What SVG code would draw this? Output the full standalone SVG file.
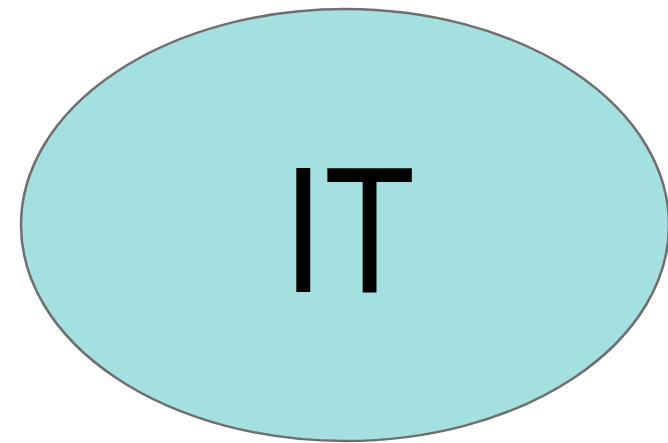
<svg xmlns="http://www.w3.org/2000/svg" width="668" height="443" viewBox="0 0 668 443">
<style>
.node{fill:#a5e0e1;stroke:#6f6f6f;stroke-width:2.5}
.lbl{font-family:"Liberation Sans",Arial,sans-serif;font-size:180px;fill:#000}
</style>
<rect width="668" height="443" fill="#ffffff"/>
<g id="connectors"></g>
<g id="node-it">
<ellipse class="node" cx="345" cy="225" rx="324" ry="216"/>
<text class="lbl" transform="translate(282.5,0) scale(0.83,1)" x="0" y="292">IT</text>
</g>
</svg>
